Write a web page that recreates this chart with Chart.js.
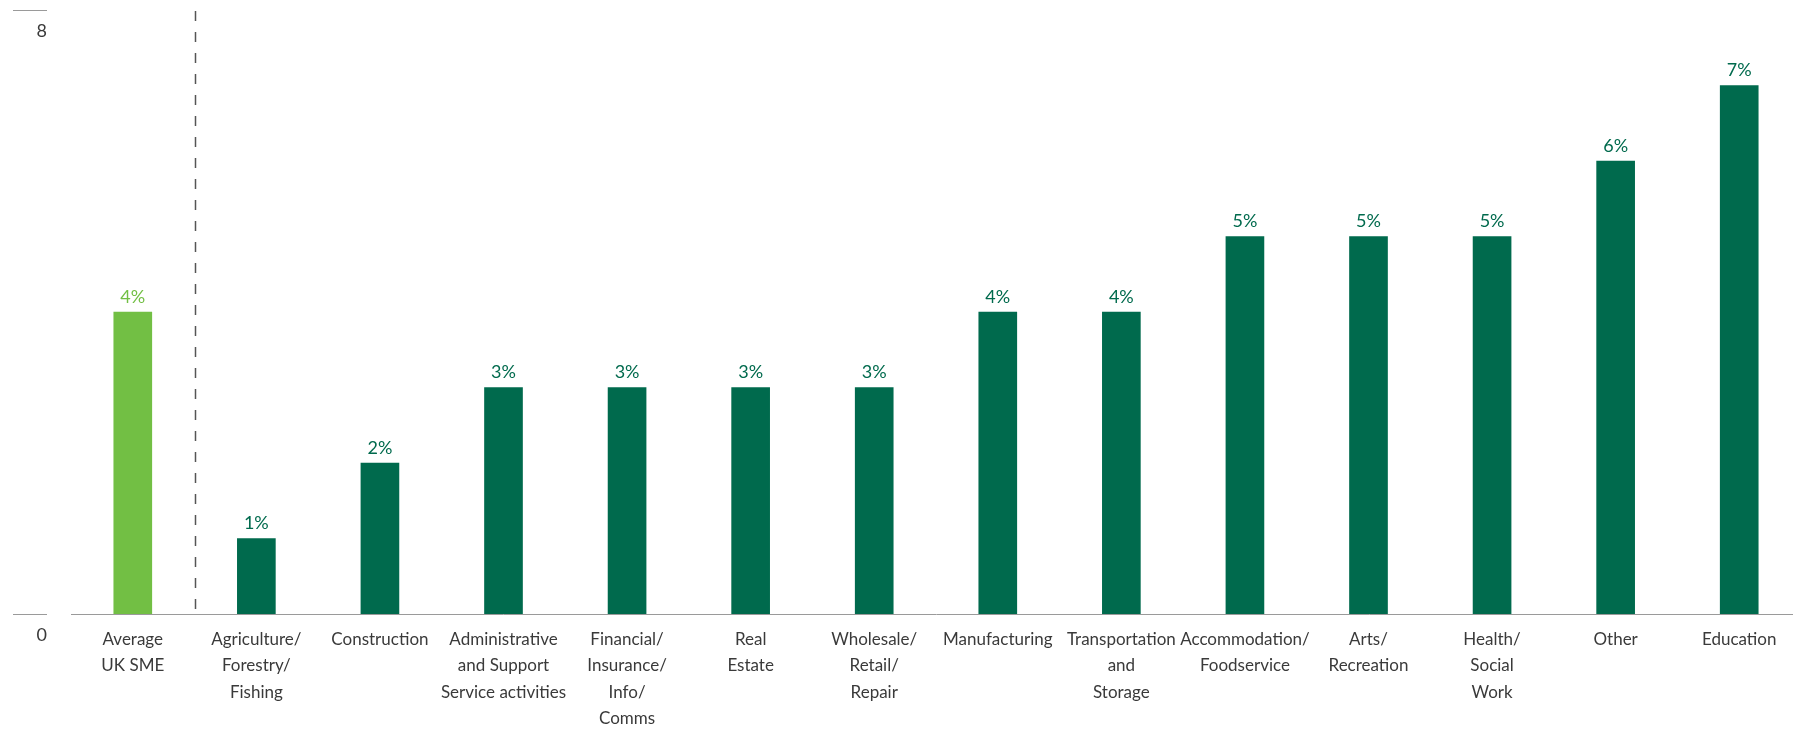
<!DOCTYPE html>
<html>
<head>
<meta charset="utf-8">
<script src="https://cdn.jsdelivr.net/npm/chart.js@4/dist/chart.umd.min.js"></script>
<style>
  html, body { margin: 0; padding: 0; background: #ffffff; overflow: hidden; }
  #wrap { position: absolute; left: 0; top: 0; width: 1801px; height: 732px; }
</style>
</head>
<body>
<div id="wrap"><canvas id="c" width="1801" height="732"></canvas></div>
<script>
// ---- Data ----
const categories = [
  ["Average", "UK SME"],
  ["Agriculture/", "Forestry/", "Fishing"],
  ["Construction"],
  ["Administrative", "and Support", "Service activities"],
  ["Financial/", "Insurance/", "Info/", "Comms"],
  ["Real", "Estate"],
  ["Wholesale/", "Retail/", "Repair"],
  ["Manufacturing"],
  ["Transportation", "and", "Storage"],
  ["Accommodation/", "Foodservice"],
  ["Arts/", "Recreation"],
  ["Health/", "Social", "Work"],
  ["Other"],
  ["Education"]
];
const values = [4, 1, 2, 3, 3, 3, 3, 4, 4, 5, 5, 5, 6, 7];
const yTicks = [0, 8];
const valueSuffix = "%";

// ---- Styles ----
const LIGHT = "#72bf44";
const DARK = "#006a4d";
const TEXT = "#3a3a3a";
const AXIS = "#9a9a9a";
const FONT = "Lato, 'Open Sans', sans-serif";

const decorPlugin = {
  id: "decor",
  afterDraw(chart) {
    const ctx = chart.ctx;
    const xs = chart.scales.x, ys = chart.scales.y;
    ctx.save();
    ctx.strokeStyle = AXIS;
    ctx.lineWidth = 1;
    yTicks.forEach(v => {
      const py = Math.round(ys.getPixelForValue(v)) + 0.5;
      ctx.beginPath();
      ctx.moveTo(13, py);
      ctx.lineTo(47, py);
      ctx.stroke();
    });
    const sx = Math.round((xs.getPixelForValue(0) + xs.getPixelForValue(1)) / 2) + 0.5;
    ctx.strokeStyle = "#555555";
    ctx.lineWidth = 1.5;
    ctx.setLineDash([10, 11]);
    ctx.beginPath();
    ctx.moveTo(sx, ys.getPixelForValue(yTicks[1]) + 1);
    ctx.lineTo(sx, ys.getPixelForValue(0));
    ctx.stroke();
    ctx.setLineDash([]);
    const meta = chart.getDatasetMeta(0);
    ctx.font = "18px " + FONT;
    ctx.textAlign = "center";
    ctx.textBaseline = "bottom";
    meta.data.forEach((bar, i) => {
      ctx.fillStyle = i === 0 ? LIGHT : DARK;
      ctx.fillText(values[i] + valueSuffix, bar.x, bar.y - 6);
    });
    ctx.restore();
  }
};

new Chart(document.getElementById("c"), {
  type: "bar",
  data: {
    labels: categories,
    datasets: [{
      data: values,
      backgroundColor: ctx => ctx.dataIndex === 0 ? LIGHT : DARK,
      barThickness: 38,
      borderWidth: 0
    }]
  },
  options: {
    responsive: false,
    animation: false,
    devicePixelRatio: 1,
    layout: { padding: 0 },
    plugins: { legend: { display: false }, tooltip: { enabled: false } },
    scales: {
      x: {
        type: "category",
        offset: true,
        grid: { display: false, drawTicks: false },
        border: { display: true, color: AXIS, width: 1 },
        ticks: {
          autoSkip: false,
          maxRotation: 0,
          minRotation: 0,
          padding: 13,
          color: TEXT,
          font: { family: FONT, size: 17, lineHeight: 1.53 }
        },
        afterFit(scale) { scale.height = 118; scale.paddingLeft = 0; scale.paddingRight = 0; }
      },
      y: {
        min: 0,
        max: 8,
        grid: { display: false, drawTicks: false },
        border: { display: false },
        afterBuildTicks(scale) { scale.ticks = yTicks.map(v => ({ value: v })); },
        ticks: {
          padding: 24,
          labelOffset: 21,
          color: TEXT,
          font: { family: FONT, size: 18 }
        },
        afterFit(scale) { scale.width = 71; scale.paddingTop = 10; scale.paddingBottom = 0; }
      }
    }
  },
  plugins: [decorPlugin]
});
</script>
</body>
</html>
